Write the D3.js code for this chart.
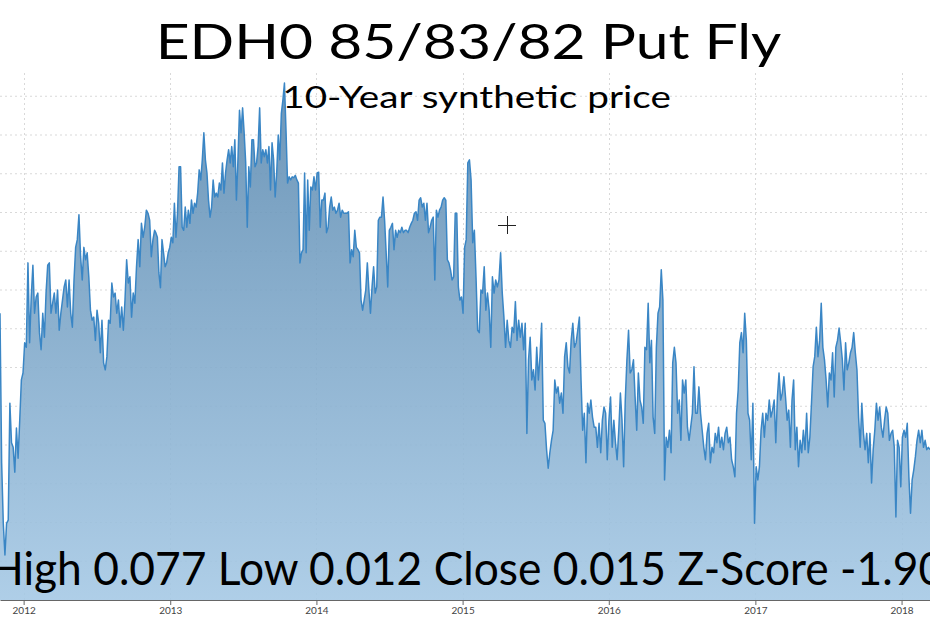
<!DOCTYPE html>
<html><head><meta charset="utf-8">
<script src="https://cdn.jsdelivr.net/npm/d3@7/dist/d3.min.js"></script>
<style>body{margin:0;background:#fff;} svg{display:block;}</style>
</head><body>
<svg id="chart" width="930" height="620"></svg>
<script>
const titleText = "EDH0 85/83/82 Put Fly";
const subtitleText = "10-Year synthetic price";
const statsText = "High 0.077 Low 0.012 Close 0.015 Z-Score -1.90";
const yearTicks = ["2012","2013","2014","2015","2016","2017","2018"];
const viewStart = "2011-11-03";
const viewEnd = "2018-03-13";
const gridValues = [0.005,0.010,0.015,0.020,0.025,0.030,0.035,0.040,0.045,0.050,0.055,0.060,0.065];
const yMax = 0.068;

const segmentDates = [
  ["2011-11-03","2012-11-23"],
  ["2012-11-26","2013-12-18"],
  ["2013-12-22","2015-01-10"],
  ["2015-01-14","2016-01-30"],
  ["2016-02-03","2017-02-21"],
  ["2017-02-25","2018-03-13"]
];

const seg2011 = [0.0370,0.0177,0.0099,0.0058,0.0099,0.0103,0.0254,0.0203,0.0197,0.0165,0.0222,0.0183,0.0232,0.0284,0.0293,0.0332,0.0326,0.0435,0.0332,0.0391,0.0432,0.0370,0.0391,0.0396,0.0345,0.0323,0.0370,0.0339,0.0396,0.0432,0.0435,0.0370,0.0383,0.0396,0.0370,0.0400,0.0348,0.0370,0.0387,0.0404,0.0413,0.0378,0.0413,0.0370,0.0352,0.0413,0.0455,0.0465,0.0497,0.0443,0.0413,0.0455,0.0439,0.0448,0.0417,0.0374,0.0361,0.0365,0.0335,0.0374,0.0357,0.0319,0.0361,0.0306,0.0297,0.0314,0.0361,0.0357,0.0409,0.0391,0.0396,0.0370,0.0387,0.0352,0.0378,0.0348,0.0387,0.0439,0.0409,0.0417,0.0365,0.0396,0.0383,0.0430,0.0465,0.0430,0.0486,0.0468,0.0481,0.0503,0.0499,0.0490,0.0443,0.0465,0.0477];

const seg2012 = [0.0474,0.0468,0.0422,0.0403,0.0465,0.0448,0.0430,0.0435,0.0448,0.0455,0.0468,0.0461,0.0512,0.0468,0.0499,0.0559,0.0559,0.0481,0.0477,0.0507,0.0481,0.0503,0.0486,0.0516,0.0499,0.0512,0.0507,0.0525,0.0555,0.0542,0.0568,0.0603,0.0568,0.0551,0.0516,0.0494,0.0507,0.0542,0.0520,0.0525,0.0520,0.0538,0.0529,0.0564,0.0525,0.0551,0.0568,0.0581,0.0564,0.0585,0.0559,0.0594,0.0516,0.0568,0.0632,0.0603,0.0635,0.0603,0.0564,0.0481,0.0559,0.0533,0.0594,0.0594,0.0559,0.0564,0.0585,0.0635,0.0564,0.0581,0.0572,0.0581,0.0564,0.0585,0.0529,0.0590,0.0568,0.0520,0.0551,0.0600,0.0568,0.0628,0.0645,0.0667,0.0606,0.0538,0.0546,0.0542,0.0546,0.0545,0.0548,0.0542,0.0538,0.0435,0.0448,0.0452,0.0551,0.0448,0.0542,0.0477,0.0533];

const seg2013 = [0.0529,0.0546,0.0529,0.0551,0.0552,0.0481,0.0516,0.0516,0.0525,0.0474,0.0481,0.0507,0.0520,0.0503,0.0507,0.0499,0.0503,0.0512,0.0494,0.0503,0.0499,0.0499,0.0499,0.0501,0.0435,0.0452,0.0443,0.0477,0.0455,0.0452,0.0448,0.0387,0.0374,0.0387,0.0400,0.0435,0.0400,0.0370,0.0404,0.0430,0.0396,0.0404,0.0490,0.0494,0.0494,0.0520,0.0490,0.0448,0.0404,0.0477,0.0481,0.0486,0.0452,0.0477,0.0468,0.0477,0.0474,0.0481,0.0474,0.0477,0.0477,0.0474,0.0481,0.0486,0.0490,0.0499,0.0501,0.0490,0.0516,0.0519,0.0507,0.0512,0.0490,0.0512,0.0474,0.0481,0.0490,0.0494,0.0413,0.0503,0.0494,0.0503,0.0507,0.0516,0.0519,0.0516,0.0439,0.0435,0.0426,0.0413,0.0417,0.0499,0.0499,0.0404,0.0387,0.0391,0.0370,0.0455,0.0465];

const seg2015 = [0.0564,0.0568,0.0542,0.0461,0.0477,0.0417,0.0348,0.0345,0.0400,0.0396,0.0430,0.0374,0.0396,0.0374,0.0326,0.0417,0.0396,0.0413,0.0404,0.0413,0.0448,0.0396,0.0365,0.0326,0.0361,0.0335,0.0326,0.0352,0.0345,0.0385,0.0335,0.0361,0.0339,0.0357,0.0323,0.0357,0.0215,0.0310,0.0339,0.0284,0.0297,0.0271,0.0326,0.0284,0.0314,0.0357,0.0232,0.0228,0.0194,0.0170,0.0190,0.0206,0.0219,0.0284,0.0267,0.0275,0.0254,0.0267,0.0241,0.0314,0.0332,0.0301,0.0293,0.0335,0.0357,0.0326,0.0332,0.0348,0.0365,0.0284,0.0219,0.0241,0.0177,0.0254,0.0241,0.0258,0.0236,0.0223,0.0223,0.0197,0.0228,0.0190,0.0232,0.0249,0.0241,0.0181,0.0232,0.0262,0.0197,0.0232,0.0203,0.0181,0.0219,0.0267];

const seg2016 = [0.0232,0.0172,0.0258,0.0310,0.0348,0.0293,0.0297,0.0310,0.0262,0.0219,0.0293,0.0258,0.0249,0.0228,0.0326,0.0323,0.0383,0.0306,0.0335,0.0236,0.0215,0.0326,0.0370,0.0378,0.0426,0.0387,0.0155,0.0210,0.0197,0.0219,0.0190,0.0306,0.0326,0.0306,0.0241,0.0258,0.0206,0.0284,0.0267,0.0284,0.0223,0.0206,0.0223,0.0241,0.0301,0.0241,0.0241,0.0275,0.0241,0.0219,0.0197,0.0181,0.0215,0.0228,0.0177,0.0197,0.0190,0.0215,0.0203,0.0223,0.0197,0.0210,0.0194,0.0215,0.0223,0.0203,0.0210,0.0181,0.0172,0.0159,0.0241,0.0271,0.0332,0.0345,0.0319,0.0370,0.0335,0.0241,0.0232,0.0181,0.0254,0.0099,0.0172,0.0155,0.0172,0.0219,0.0241,0.0210,0.0241,0.0232,0.0258,0.0236,0.0245,0.0258,0.0203];

const seg2017 = [0.0262,0.0293,0.0258,0.0267,0.0288,0.0262,0.0232,0.0245,0.0197,0.0258,0.0284,0.0194,0.0223,0.0172,0.0206,0.0190,0.0219,0.0194,0.0241,0.0190,0.0210,0.0254,0.0301,0.0314,0.0352,0.0314,0.0335,0.0383,0.0326,0.0310,0.0284,0.0249,0.0293,0.0284,0.0319,0.0262,0.0326,0.0335,0.0351,0.0332,0.0310,0.0271,0.0332,0.0297,0.0306,0.0319,0.0326,0.0345,0.0319,0.0297,0.0236,0.0197,0.0254,0.0215,0.0194,0.0215,0.0177,0.0215,0.0151,0.0194,0.0219,0.0254,0.0232,0.0249,0.0223,0.0210,0.0232,0.0249,0.0241,0.0206,0.0215,0.0219,0.0197,0.0107,0.0206,0.0197,0.0146,0.0210,0.0219,0.0210,0.0228,0.0159,0.0112,0.0155,0.0168,0.0185,0.0206,0.0219,0.0203,0.0219,0.0197,0.0206,0.0194,0.0197,0.0194];

const segments = [seg2011, seg2012, seg2013, seg2015, seg2016, seg2017];

const parse = d3.timeParse("%Y-%m-%d");
const data = [];
segments.forEach((vals, i) => {
  const t0 = parse(segmentDates[i][0]).getTime();
  const t1 = parse(segmentDates[i][1]).getTime();
  vals.forEach((v, j) => {
    data.push({date: new Date(t0 + (t1 - t0) * j / (vals.length - 1)), value: v});
  });
});

const W = 930, H = 620;
const plotTop = 73, plotBottom = 600;
const svg = d3.select("#chart");

const x = d3.scaleTime().domain([parse(viewStart), parse(viewEnd)]).range([0, W]);
const y = d3.scaleLinear().domain([0, yMax]).range([plotBottom, plotTop]);

const defs = svg.append("defs");
const grad = defs.append("linearGradient").attr("id","fillGrad")
  .attr("gradientUnits","userSpaceOnUse").attr("x1",0).attr("x2",0)
  .attr("y1", y(yMax)).attr("y2", y(0));
grad.append("stop").attr("offset","0%").attr("stop-color","#5c8ab0");
grad.append("stop").attr("offset","100%").attr("stop-color","#a6c9e5");
defs.append("clipPath").attr("id","plotClip").append("rect")
  .attr("x",0).attr("y",0).attr("width",W).attr("height",plotBottom);

// grid
const yearDates = yearTicks.map(s => parse(s + "-01-01"));
svg.append("g").selectAll("line.h").data(gridValues).join("line")
  .attr("x1",0).attr("x2",W).attr("y1",d=>y(d)).attr("y2",d=>y(d))
  .attr("stroke","#d9d9d9").attr("stroke-width",1).attr("stroke-dasharray","2,3");
svg.append("g").selectAll("line.v").data(yearDates).join("line")
  .attr("x1",d=>Math.round(x(d))+0.5).attr("x2",d=>Math.round(x(d))+0.5)
  .attr("y1",plotTop).attr("y2",plotBottom)
  .attr("stroke","#d9d9d9").attr("stroke-width",1).attr("stroke-dasharray","2,3");

const g = svg.append("g").attr("clip-path","url(#plotClip)");
const area = d3.area().x(d=>x(d.date)).y0(y(0)).y1(d=>y(d.value));
const line = d3.line().x(d=>x(d.date)).y(d=>y(d.value));
g.append("path").datum(data).attr("d",area).attr("fill","url(#fillGrad)").attr("fill-opacity",0.9);
g.append("path").datum(data).attr("d",line).attr("fill","none")
  .attr("stroke","#3a86c5").attr("stroke-width",1.5).attr("stroke-linejoin","round");

// x axis
const xAxis = d3.axisBottom(x).tickValues(yearDates).tickFormat((d,i)=>yearTicks[i]).tickSize(5).tickSizeOuter(0);
const ax = svg.append("g").attr("transform",`translate(0,${plotBottom})`).call(xAxis);
ax.select(".domain").attr("stroke","#666");
ax.selectAll(".tick line").attr("stroke","#666");
ax.selectAll(".tick text").attr("fill","#444").attr("font-family","Lato").attr("font-size",10).attr("dy","0.55em");

// texts (horizontally stretched as in the reference)
function stretchedText(txt, cx, by, size, sx) {
  svg.append("text").attr("transform",`translate(${cx},${by}) scale(${sx},1)`)
    .attr("text-anchor","middle").attr("font-family","Lato").attr("font-size",size)
    .attr("fill","#000").text(txt);
}
stretchedText(titleText, 468.5, 59, 48, 1.224);
stretchedText(subtitleText, 476.5, 108, 31, 1.248);
stretchedText(statsText, 467, 585, 46, 0.964);

// cursor crosshair
const cx = 507, cy = 225;
svg.append("path").attr("d",`M${cx-9},${cy+0.5}H${cx+9}M${cx+0.5},${cy-9}V${cy+9}`)
  .attr("stroke","#222").attr("stroke-width",1);
</script>
</body></html>
